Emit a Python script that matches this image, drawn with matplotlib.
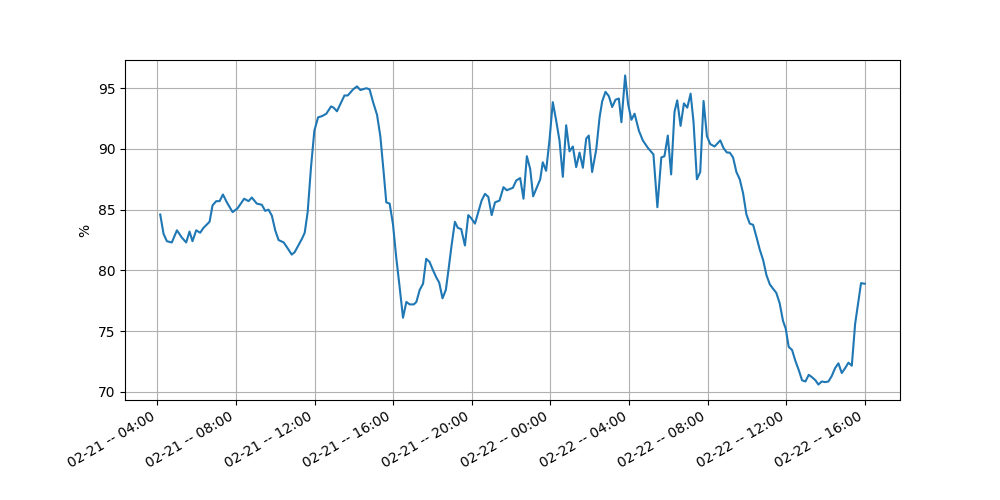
import matplotlib
matplotlib.use("Agg")
import matplotlib.pyplot as plt
import matplotlib.dates as mdates
import pandas as pd

# hours after 02-21 04:00, and humidity values
hours = [0.15, 0.32, 0.49, 0.74, 1.0, 1.25, 1.47, 1.64, 1.79, 1.98, 2.18, 2.35, 2.66, 2.81, 3.0, 3.17,
         3.34, 3.54, 3.83, 4.08, 4.42, 4.64, 4.81, 5.06, 5.32, 5.49, 5.66, 5.83, 6.0, 6.17, 6.43, 6.6,
         6.84, 6.99, 7.19, 7.36, 7.5, 7.65, 7.82, 7.99, 8.18, 8.38, 8.6, 8.84, 8.97, 9.14, 9.52, 9.69,
         9.96, 10.16, 10.33, 10.64, 10.8, 10.97, 11.18, 11.35, 11.52, 11.65, 11.82, 11.99, 12.16, 12.33,
         12.5, 12.67, 12.84, 13.05, 13.18, 13.35, 13.52, 13.68, 13.85, 14.03, 14.2, 14.34, 14.51, 14.68,
         14.81, 14.97, 15.14, 15.29, 15.46, 15.65, 15.82, 15.97, 16.16, 16.33, 16.5, 16.67, 16.84, 17.01,
         17.18, 17.41, 17.61, 17.78, 18.09, 18.26, 18.46, 18.63, 18.8, 18.97, 19.12, 19.31, 19.48, 19.61,
         19.78, 19.95, 20.12, 20.29, 20.46, 20.63, 20.8, 20.97, 21.14, 21.31, 21.48, 21.65, 21.82, 21.95,
         22.12, 22.33, 22.5, 22.63, 22.8, 22.97, 23.14, 23.31, 23.48, 23.61, 23.8, 23.95, 24.12, 24.28,
         24.5, 24.7, 24.95, 25.24, 25.44, 25.64, 25.8, 25.97, 26.14, 26.31, 26.45, 26.62, 26.79, 26.96,
         27.13, 27.28, 27.45, 27.62, 27.79, 27.96, 28.13, 28.35, 28.64, 28.81, 28.98, 29.12, 29.29, 29.46,
         29.63, 29.8, 29.97, 30.14, 30.31, 30.48, 30.65, 30.82, 30.99, 31.16, 31.32, 31.49, 31.66, 31.83,
         31.97, 32.12, 32.29, 32.46, 32.63, 32.8, 32.97, 33.14, 33.31, 33.48, 33.63, 33.8, 33.97, 34.14,
         34.31, 34.48, 34.65, 34.82, 34.99, 35.16, 35.33, 35.5, 35.8, 35.99]
values = [84.6, 83.0, 82.4, 82.3, 83.3, 82.7, 82.3, 83.2, 82.4, 83.3, 83.1, 83.5, 84.0, 85.35, 85.7, 85.7,
          86.25, 85.6, 84.8, 85.1, 85.9, 85.7, 86.0, 85.5, 85.4, 84.9, 85.0, 84.5, 83.3, 82.5, 82.3, 81.9,
          81.3, 81.5, 82.1, 82.6, 83.1, 84.8, 88.5, 91.5, 92.6, 92.7, 92.9, 93.5, 93.4, 93.1, 94.4, 94.4,
          94.9, 95.15, 94.85, 95.0, 94.9, 93.9, 92.8, 91.0, 88.0, 85.6, 85.5, 83.8, 81.0, 78.6,
          76.1, 77.4, 77.2, 77.2, 77.4, 78.4, 78.9, 80.95, 80.7, 80.0, 79.4, 79.0, 77.7, 78.4,
          80.0, 82.05, 84.0, 83.5, 83.4, 82.05, 84.55, 84.3, 83.85, 84.8, 85.75, 86.3, 86.05, 84.55,
          85.6, 85.75, 86.85, 86.6, 86.8, 87.4, 87.6, 85.9, 89.4, 88.35, 86.1, 86.85, 87.5, 88.9,
          88.2, 90.7, 93.85, 92.35, 90.7, 87.7, 91.95, 89.8, 90.2, 88.5, 89.7, 88.45, 90.85, 91.1,
          88.1, 89.95, 92.6, 93.9, 94.7, 94.35, 93.45, 94.05, 94.15, 92.2, 96.05, 93.7, 92.4, 92.9,
          91.5, 90.7, 90.1, 89.55, 85.2, 89.3, 89.4, 91.1, 87.9, 93.05, 94.0, 91.9, 93.75, 93.4,
          94.55, 92.2, 87.5, 88.1, 93.95, 91.05, 90.4, 90.2, 90.7, 90.05, 89.7, 89.7, 89.3, 88.1,
          87.5, 86.35, 84.6, 83.85, 83.75, 82.75, 81.7, 80.85, 79.6, 78.85, 78.5, 78.15, 77.3, 75.85,
          75.2, 73.7, 73.45, 72.55, 71.8, 70.95, 70.85, 71.4, 71.2, 70.95, 70.6, 70.85, 70.8, 70.85,
          71.3, 71.95, 72.35, 71.55, 71.95, 72.4, 72.15, 75.6, 78.95, 78.9]

start = pd.Timestamp("2023-02-21 04:00")
times = [start + pd.Timedelta(hours=h) for h in hours]

fig, ax = plt.subplots(figsize=(10, 5), dpi=100)
ax.plot(times, values, color="#1f77b4")
ax.set_ylabel("%")
ax.grid(True)
ax.xaxis.set_major_locator(mdates.HourLocator(byhour=range(0, 24, 4)))
ax.xaxis.set_major_formatter(mdates.DateFormatter("%m-%d -- %H:%M"))
fig.autofmt_xdate()
fig.savefig("out.png")
